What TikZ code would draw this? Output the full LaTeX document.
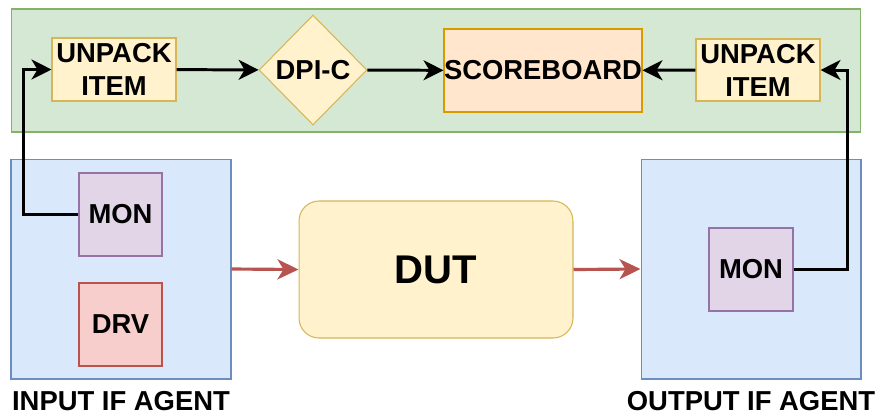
\documentclass[tikz,border=0pt]{standalone}
\usepackage{fontspec}
\setmainfont{Liberation Sans}
\usetikzlibrary{shapes.geometric, arrows.meta, positioning, calc}
\definecolor{grnfill}{HTML}{D5E8D4}
\definecolor{grnline}{HTML}{82B366}
\definecolor{yelfill}{HTML}{FFF2CC}
\definecolor{yelline}{HTML}{D6B656}
\definecolor{orgfill}{HTML}{FFE6CC}
\definecolor{orgline}{HTML}{D79B00}
\definecolor{blufill}{HTML}{DAE8FC}
\definecolor{bluline}{HTML}{6C8EBF}
\definecolor{purfill}{HTML}{E1D5E7}
\definecolor{purline}{HTML}{9673A6}
\definecolor{redfill}{HTML}{F8CECC}
\definecolor{redline}{HTML}{B85450}
\tikzstyle{lbl} = [font=\bfseries\fontsize{15.6}{18.8}\selectfont, align=center, inner sep=0pt]
\tikzstyle{block} = [draw, rectangle, line width=0.6pt, lbl]
\tikzstyle{agent} = [draw=bluline, fill=blufill, rectangle, line width=0.6pt, minimum width=4.4cm, minimum height=4.4cm]
\tikzstyle{arrow} = [line width=1.7pt, -{Stealth[length=0.4cm, width=0.4cm, inset=0.12cm]}]
\tikzstyle{redarrow} = [line width=1.8pt, redline, -{Stealth[length=0.42cm, width=0.4cm, inset=0.12cm]}]

\begin{document}
\begin{tikzpicture}[x=0.02cm, y=-0.02cm]
    \useasboundingbox (0,0) rectangle (876,414);

    % Checker environment
    \node (env) [draw=grnline, fill=grnfill, rectangle, line width=0.6pt, minimum width=17.0cm, minimum height=2.46cm] at (436,70.5) {};
    \node (unpackin) [block, draw=yelline, fill=yelfill, minimum width=2.48cm, minimum height=1.26cm] at (114,69.5) {UNPACK\\ITEM};
    \node (dpic) [draw=yelline, fill=yelfill, diamond, line width=0.6pt, lbl, minimum width=2.16cm, minimum height=2.2cm] at (313,70) {DPI-C};
    \node (score) [block, draw=orgline, fill=orgfill, minimum width=3.96cm, minimum height=1.66cm] at (543,70.5) {SCOREBOARD};
    \node (unpackout) [block, draw=yelline, fill=yelfill, minimum width=2.48cm, minimum height=1.24cm] at (758,70) {UNPACK\\ITEM};

    % Agents
    \node (inagent) [agent] at (121,269) {};
    \node (monin) [block, draw=purline, fill=purfill, minimum width=1.66cm, minimum height=1.66cm] at (120.5,214.5) {MON};
    \node (drv) [block, draw=redline, fill=redfill, minimum width=1.66cm, minimum height=1.66cm] at (120.5,324.5) {DRV};
    \node (inlabel) [lbl, below=0.23cm of inagent] {INPUT IF AGENT};

    \node (outagent) [agent] at (751,269) {};
    \node (monout) [block, draw=purline, fill=purfill, minimum width=1.68cm, minimum height=1.66cm] at (751,269.5) {MON};
    \node (outlabel) [lbl, below=0.23cm of outagent] {OUTPUT IF AGENT};

    % Design under test
    \node (dut) [draw=yelline, fill=yelfill, rectangle, rounded corners=0.4cm, line width=0.6pt, minimum width=5.48cm, minimum height=2.74cm, font=\bfseries\fontsize{22.8}{27}\selectfont] at (436,269.5) {DUT};

    % Connections
    \draw [arrow] (monin.west) -- ++(-55,0) |- (unpackin.west);
    \draw [arrow] (unpackin) -- (dpic);
    \draw [arrow] (dpic) -- (score);
    \draw [arrow] (unpackout) -- (score);
    \draw [arrow] (monout.east) -- ++(54,0) |- (unpackout.east);
    \draw [redarrow] (inagent.east) -- (dut.west);
    \draw [redarrow] (dut.east) -- (outagent.west);
\end{tikzpicture}
\end{document}
